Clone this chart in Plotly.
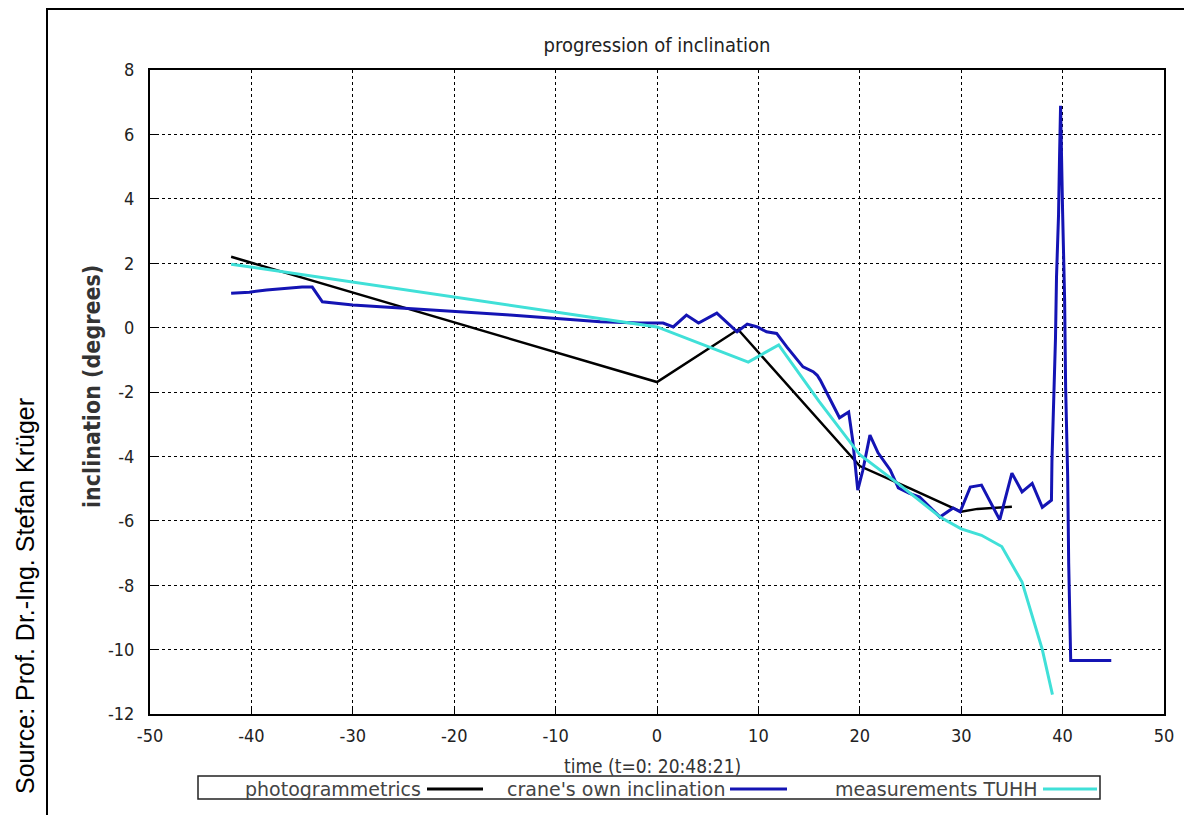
import plotly.graph_objects as go

# ---------------- data ----------------
photo_t = [-42, 0, 8, 20, 25, 28.6, 30, 31.6, 35]
photo_v = [2.2, -1.69, -0.06, -4.3, -5.0, -5.51, -5.72, -5.63, -5.56]

crane_t = [-42, -40.2, -38.5, -36.7, -35, -34, -33, -30, -26.6, -23.7, -18.7, -14.5,
           -10.3, -5.6, -1.7, 0.6, 1.6, 2.9, 4.1, 5.9, 7.9, 8.9, 9.9, 10.8, 11.8,
           12.8, 14.4, 15.4, 15.8, 16.1, 18.0, 18.9, 19.3, 19.8, 20.3, 21.0, 21.8,
           23.0, 23.8, 24.9, 25.9, 27.9, 29.2, 29.9, 30.9, 32.0, 33.8, 35.0, 36.0,
           37.0, 38.0, 38.9, 38.95, 39.15, 39.3, 39.4, 39.6, 39.7, 39.8, 40.0, 40.2,
           40.3, 40.5, 40.6, 40.8, 44.8]
crane_v = [1.07, 1.1, 1.17, 1.22, 1.26, 1.26, 0.8, 0.7, 0.64, 0.57, 0.48, 0.39,
           0.30, 0.18, 0.14, 0.14, 0.02, 0.39, 0.14, 0.45, -0.13, 0.11, 0.02, -0.13, -0.18,
           -0.6, -1.22, -1.37, -1.48, -1.63, -2.8, -2.62, -3.5, -5.05, -4.43, -3.34, -3.89,
           -4.42, -4.98, -5.15, -5.26, -5.88, -5.6, -5.72, -4.95, -4.89, -5.97, -4.52, -5.1,
           -4.84, -5.58, -5.36, -4.14, -2.23, -0.32, 1.59, 3.5, 5.34, 6.89, 3.6, 0.87,
           -1.87, -4.61, -7.3, -10.34, -10.34]

tuhh_t = [-42, 0, 9, 12, 16, 20, 24, 28, 30, 32, 34, 36, 38, 39]
tuhh_v = [1.97, 0.02, -1.07, -0.54, -2.3, -3.95, -4.9, -5.9, -6.25, -6.45, -6.8, -7.9, -10.0, -11.4]

x_ticks = [-50, -40, -30, -20, -10, 0, 10, 20, 30, 40, 50]
x_tick_labels = ["-50", "-40", "-30", "-20", "-10", "0", "10", "20", "30", "40", "50"]
y_ticks = [-12, -10, -8, -6, -4, -2, 0, 2, 4, 6, 8]
y_tick_labels = ["-12", "-10", "-8", "-6", "-4", "-2", "0", "2", "4", "6", "8"]

series_names = ["photogrammetrics", "crane's own inclination", "measurements TUHH"]
series_colors = ["#000000", "#1414b4", "#40e0d8"]

# ---------------- figure ----------------
OFF = 8                      # page body margin
W, H = 1192 - OFF, 823 - 2 * OFF
L, T = 150 - OFF, 70 - OFF
R = W - (1164 - OFF)
B = H - (714 - OFF)
pw, ph = W - L - R, H - T - B


def px(xs):
    """screen x pixel -> paper coordinate"""
    return (xs - OFF - L) / pw


def py(ys):
    """screen y pixel -> paper coordinate"""
    return (H - B - (ys - OFF)) / ph


fig = go.Figure()
fig.add_trace(go.Scatter(x=photo_t, y=photo_v, mode="lines", name=series_names[0],
                         line=dict(color=series_colors[0], width=2.5), showlegend=False))
fig.add_trace(go.Scatter(x=crane_t, y=crane_v, mode="lines", name=series_names[1],
                         line=dict(color=series_colors[1], width=3), showlegend=False))
fig.add_trace(go.Scatter(x=tuhh_t, y=tuhh_v, mode="lines", name=series_names[2],
                         line=dict(color=series_colors[2], width=3), showlegend=False))

font_main = "Liberation Sans Narrow, DejaVu Sans Condensed, Arial, sans-serif"
font_leg = "DejaVu Sans, Arial, sans-serif"

axis_common = dict(showgrid=True, gridcolor="#000000", gridwidth=1, griddash="dot",
                   zeroline=False, showline=True, linecolor="#000000", linewidth=2,
                   mirror=True, ticks="inside", ticklen=6, tickcolor="#000000",
                   tickfont=dict(family=font_main, size=18, color="#222222"))

fig.update_layout(
    width=W, height=H,
    margin=dict(l=L, r=R, t=T, b=B),
    paper_bgcolor="white", plot_bgcolor="white",
    title=dict(text="progression of inclination", x=(657 - OFF) / W,
               xanchor="center", y=1 - (45 - OFF) / H, yanchor="middle",
               font=dict(family=font_main, size=20, color="#222222")),
    xaxis=dict(range=[-50, 50], tickvals=x_ticks, ticktext=x_tick_labels,
               ticklabelstandoff=4, **axis_common),
    yaxis=dict(range=[-12, 8], tickvals=y_ticks, ticktext=y_tick_labels,
               ticklabelstandoff=10, **axis_common),
)

annotations = [
    dict(text="<b>inclination (degrees)</b>", x=px(92), y=py(387), xref="paper", yref="paper",
         xanchor="center", yanchor="middle", showarrow=False, textangle=-90,
         font=dict(family=font_main, size=23, color="#333333")),
    dict(text="time (t=0: 20:48:21)", x=px(652), y=py(766), xref="paper", yref="paper",
         xanchor="center", yanchor="middle", showarrow=False,
         font=dict(family=font_main, size=19, color="#333333")),
    dict(text="Source: Prof. Dr.-Ing. Stefan Krüger", x=px(25), y=py(596), xref="paper",
         yref="paper", xanchor="center", yanchor="middle", showarrow=False, textangle=-90,
         font=dict(family="Liberation Sans, Arial, sans-serif", size=25, color="#000000")),
]

# custom legend (text followed by line sample, gnuplot style)
leg_y = py(789)
text_right = [423, 727, 1040]
sample_x = [(427, 483), (730, 787), (1043, 1097)]
for name, tr in zip(series_names, text_right):
    annotations.append(dict(text=name, x=px(tr), y=leg_y, xref="paper", yref="paper",
                            xanchor="right", yanchor="middle", showarrow=False,
                            font=dict(family=font_leg, size=19, color="#444444")))
fig.update_layout(annotations=annotations)

shapes = [
    # outer frame
    dict(type="rect", xref="paper", yref="paper", x0=px(47), x1=px(1189), y0=py(860), y1=py(9),
         line=dict(color="#000000", width=2), layer="below"),
    # legend box
    dict(type="rect", xref="paper", yref="paper", x0=px(198), x1=px(1100), y0=py(799), y1=py(776),
         line=dict(color="#222222", width=1.5)),
]
for color, (s0, s1) in zip(series_colors, sample_x):
    shapes.append(dict(type="line", xref="paper", yref="paper", x0=px(s0), x1=px(s1),
                       y0=leg_y, y1=leg_y, line=dict(color=color, width=3)))
fig.update_layout(shapes=shapes)

fig.write_html("out.html")
